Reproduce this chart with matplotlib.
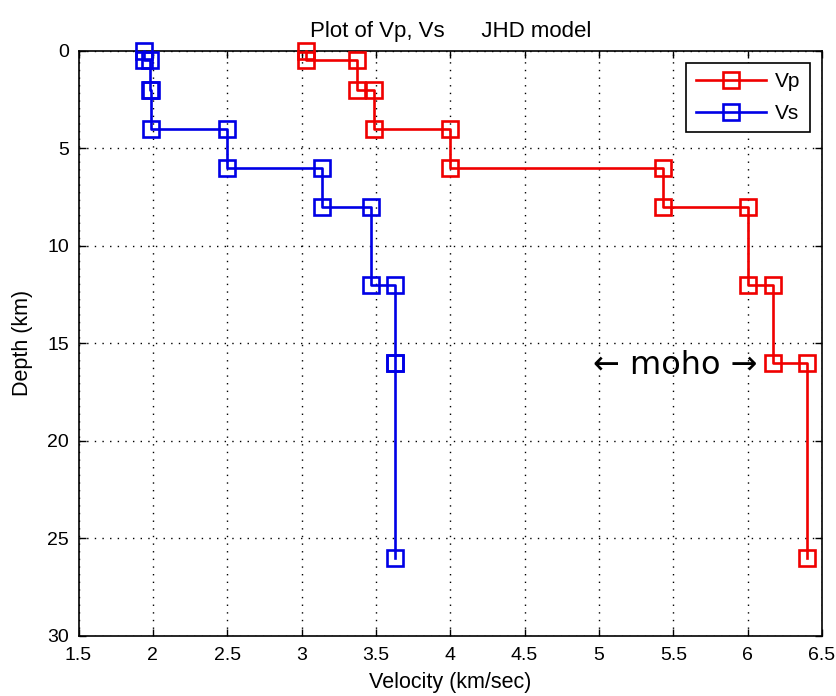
import numpy as np
import matplotlib
matplotlib.use("Agg")
import matplotlib.pyplot as plt

# ---- data ----
layer_depths = [0, 0.5, 2, 4, 6, 8, 12, 16, 26]          # km (layer boundaries)
vp = [3.03, 3.37, 3.49, 4.0, 5.43, 6.0, 6.17, 6.4]        # km/s per layer
vs = [1.94, 1.98, 1.99, 2.5, 3.14, 3.47, 3.63, 3.63]      # km/s per layer
series_names = ["Vp", "Vs"]
xticks = [1.5, 2, 2.5, 3, 3.5, 4, 4.5, 5, 5.5, 6, 6.5]
xtick_labels = ["1.5", "2", "2.5", "3", "3.5", "4", "4.5", "5", "5.5", "6", "6.5"]
yticks = [0, 5, 10, 15, 20, 25, 30]
moho_label = "\u2190 moho \u2192"
moho_pos = (5.51, 16.15)


def stairs(vel, depths):
    d = np.asarray(depths, dtype=float)
    x = np.repeat(np.asarray(vel, dtype=float), 2)
    y = np.column_stack([d[:-1], d[1:]]).ravel()
    return x, y


FONT = ["Liberation Sans", "DejaVu Sans"]
plt.rcParams["font.family"] = FONT

fig = plt.figure(figsize=(8.36, 6.96), dpi=100)
ax = fig.add_axes([0.0939, 0.0869, 0.8894, 0.8405])

red = "#f00000"
blue = "#0000e6"
for vel, col, name in [(vp, red, series_names[0]), (vs, blue, series_names[1])]:
    x, y = stairs(vel, layer_depths)
    ax.plot(x, y, color=col, lw=1.9, marker="s", markersize=11,
            markerfacecolor="none", markeredgecolor=col, markeredgewidth=1.9,
            label=name, clip_on=False, zorder=3)

ax.set_xlim(1.5, 6.5)
ax.set_ylim(30, 0)
ax.set_xticks(xticks)
ax.set_xticklabels(xtick_labels)
ax.set_yticks(yticks)
ax.tick_params(direction="in", length=5, width=1, top=True, right=True,
               labelsize=14, colors="black")
ax.tick_params(axis="x", pad=8)
ax.tick_params(axis="y", pad=7)
ax.grid(True, color="black", linestyle=(0, (1, 4.5)), linewidth=1.0)
for s in ax.spines.values():
    s.set_linewidth(1.2)

ax.set_xlabel("Velocity (km/sec)", fontsize=15.5, labelpad=6)
ax.set_ylabel("Depth (km)", fontsize=15.5, labelpad=10)
ax.set_title("Plot of Vp, Vs      JHD model", fontsize=16, pad=10)

ax.text(moho_pos[0], moho_pos[1], moho_label, fontsize=23,
        family=["DejaVu Sans"], ha="center", va="center")

leg = ax.legend(loc="upper right", fontsize=15, frameon=True, fancybox=False,
                edgecolor="black", framealpha=1, handlelength=3.4,
                borderaxespad=0.6, labelspacing=0.6, handletextpad=0.4,
                borderpad=0.45)
leg.get_frame().set_linewidth(1.2)

fig.savefig("out.png", dpi=100)
